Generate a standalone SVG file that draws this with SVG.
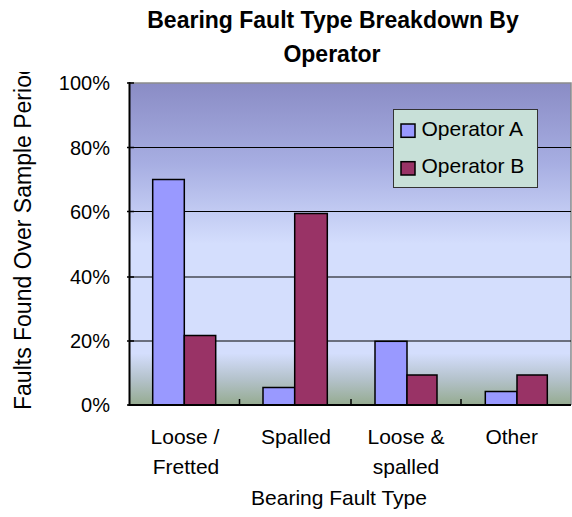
<svg xmlns="http://www.w3.org/2000/svg" width="572" height="517" viewBox="0 0 572 517">
<style>
text{font-family:"Liberation Sans",Arial,sans-serif;fill:#000}
.title{font-size:23px;font-weight:bold;text-anchor:middle}
.tick{font-size:20px;text-anchor:end}
.cat{font-size:21px;text-anchor:middle}
.leg{font-size:21px}
.grid{stroke:#000;stroke-width:1}
.barA{fill:#9999FF;stroke:#000;stroke-width:1.5}
.barB{fill:#993366;stroke:#000;stroke-width:1.5}
.axis{stroke:#000;stroke-width:2}
</style>
<defs>
<linearGradient id="bg" x1="0" y1="83" x2="0" y2="405" gradientUnits="userSpaceOnUse">
<stop offset="0" stop-color="#8A8CC5"/>
<stop offset="0.25" stop-color="#A7AEE2"/>
<stop offset="0.5" stop-color="#D4DEFD"/>
<stop offset="0.84" stop-color="#D4DEFD"/>
<stop offset="0.92" stop-color="#B4C2CB"/>
<stop offset="1" stop-color="#95AB90"/>
</linearGradient>
<clipPath id="ytclip"><rect x="0" y="72" width="60" height="360"/></clipPath>
</defs>
<rect width="572" height="517" fill="#fff"/>
<g id="title">
<text class="title" x="333" y="28">Bearing Fault Type Breakdown By</text>
<text class="title" x="332" y="62">Operator</text>
</g>
<g id="plot">
<rect x="129.5" y="83" width="441.5" height="322" fill="url(#bg)"/>
<path d="M129.5 83H571V405" fill="none" stroke="#8C8C8C" stroke-width="1.5"/>
<g id="gridlines">
<line class="grid" x1="129.5" y1="147.5" x2="571" y2="147.5"/>
<line class="grid" x1="129.5" y1="211.5" x2="571" y2="211.5"/>
<line class="grid" x1="129.5" y1="277" x2="571" y2="277"/>
<line class="grid" x1="129.5" y1="341" x2="571" y2="341"/>
</g>
</g>
<g id="seriesA">
<rect class="barA" x="152.7" y="179.5" width="31.6" height="225.5"/>
<rect class="barA" x="263" y="387.5" width="31.7" height="17.5"/>
<rect class="barA" x="375" y="341.3" width="32" height="63.7"/>
<rect class="barA" x="485.3" y="391.5" width="31.7" height="13.5"/>
</g>
<g id="seriesB">
<rect class="barB" x="184.3" y="335.5" width="31.4" height="69.5"/>
<rect class="barB" x="294.7" y="213.5" width="32.6" height="191.5"/>
<rect class="barB" x="407" y="375" width="30" height="30"/>
<rect class="barB" x="517" y="375" width="30.3" height="30"/>
</g>
<g id="axes">
<line class="axis" x1="129.5" y1="82" x2="129.5" y2="406"/>
<line class="axis" x1="128.5" y1="405" x2="571" y2="405"/>
<g stroke="#000" stroke-width="1.5">
<line x1="127" y1="83" x2="134" y2="83"/>
<line x1="127" y1="147.5" x2="134" y2="147.5"/>
<line x1="127" y1="211.5" x2="134" y2="211.5"/>
<line x1="127" y1="277" x2="134" y2="277"/>
<line x1="127" y1="341" x2="134" y2="341"/>
<line x1="127" y1="405" x2="134" y2="405"/>
<line x1="239.5" y1="399" x2="239.5" y2="405"/>
<line x1="351" y1="399" x2="351" y2="405"/>
<line x1="461" y1="399" x2="461" y2="405"/>
</g>
</g>
<g id="yticks">
<text class="tick" x="110" y="90">100%</text>
<text class="tick" x="110" y="154.5">80%</text>
<text class="tick" x="110" y="218.5">60%</text>
<text class="tick" x="110" y="284">40%</text>
<text class="tick" x="110" y="348">20%</text>
<text class="tick" x="110" y="412">0%</text>
</g>
<g id="ytitle" clip-path="url(#ytclip)">
<text x="0" y="0" font-size="23" transform="translate(30.5,410) rotate(-90)">Faults Found Over Sample Period</text>
</g>
<g id="categories">
<text class="cat" x="185" y="443.5">Loose /</text>
<text class="cat" x="186" y="473.5">Fretted</text>
<text class="cat" x="296" y="443.5">Spalled</text>
<text class="cat" x="406" y="443.5">Loose &amp;</text>
<text class="cat" x="406" y="473.5">spalled</text>
<text class="cat" x="511.7" y="443.5">Other</text>
<text class="cat" x="339" y="504.5">Bearing Fault Type</text>
</g>
<g id="legend">
<rect x="393.5" y="109.5" width="144" height="78" fill="#C8E0D8" stroke="#333" stroke-width="1"/>
<rect class="barA" x="401" y="124" width="14" height="13.3"/>
<rect class="barB" x="401" y="161.7" width="14" height="13.3"/>
<text class="leg" x="421.5" y="135.7">Operator A</text>
<text class="leg" x="421.5" y="172.7">Operator B</text>
</g>
</svg>
